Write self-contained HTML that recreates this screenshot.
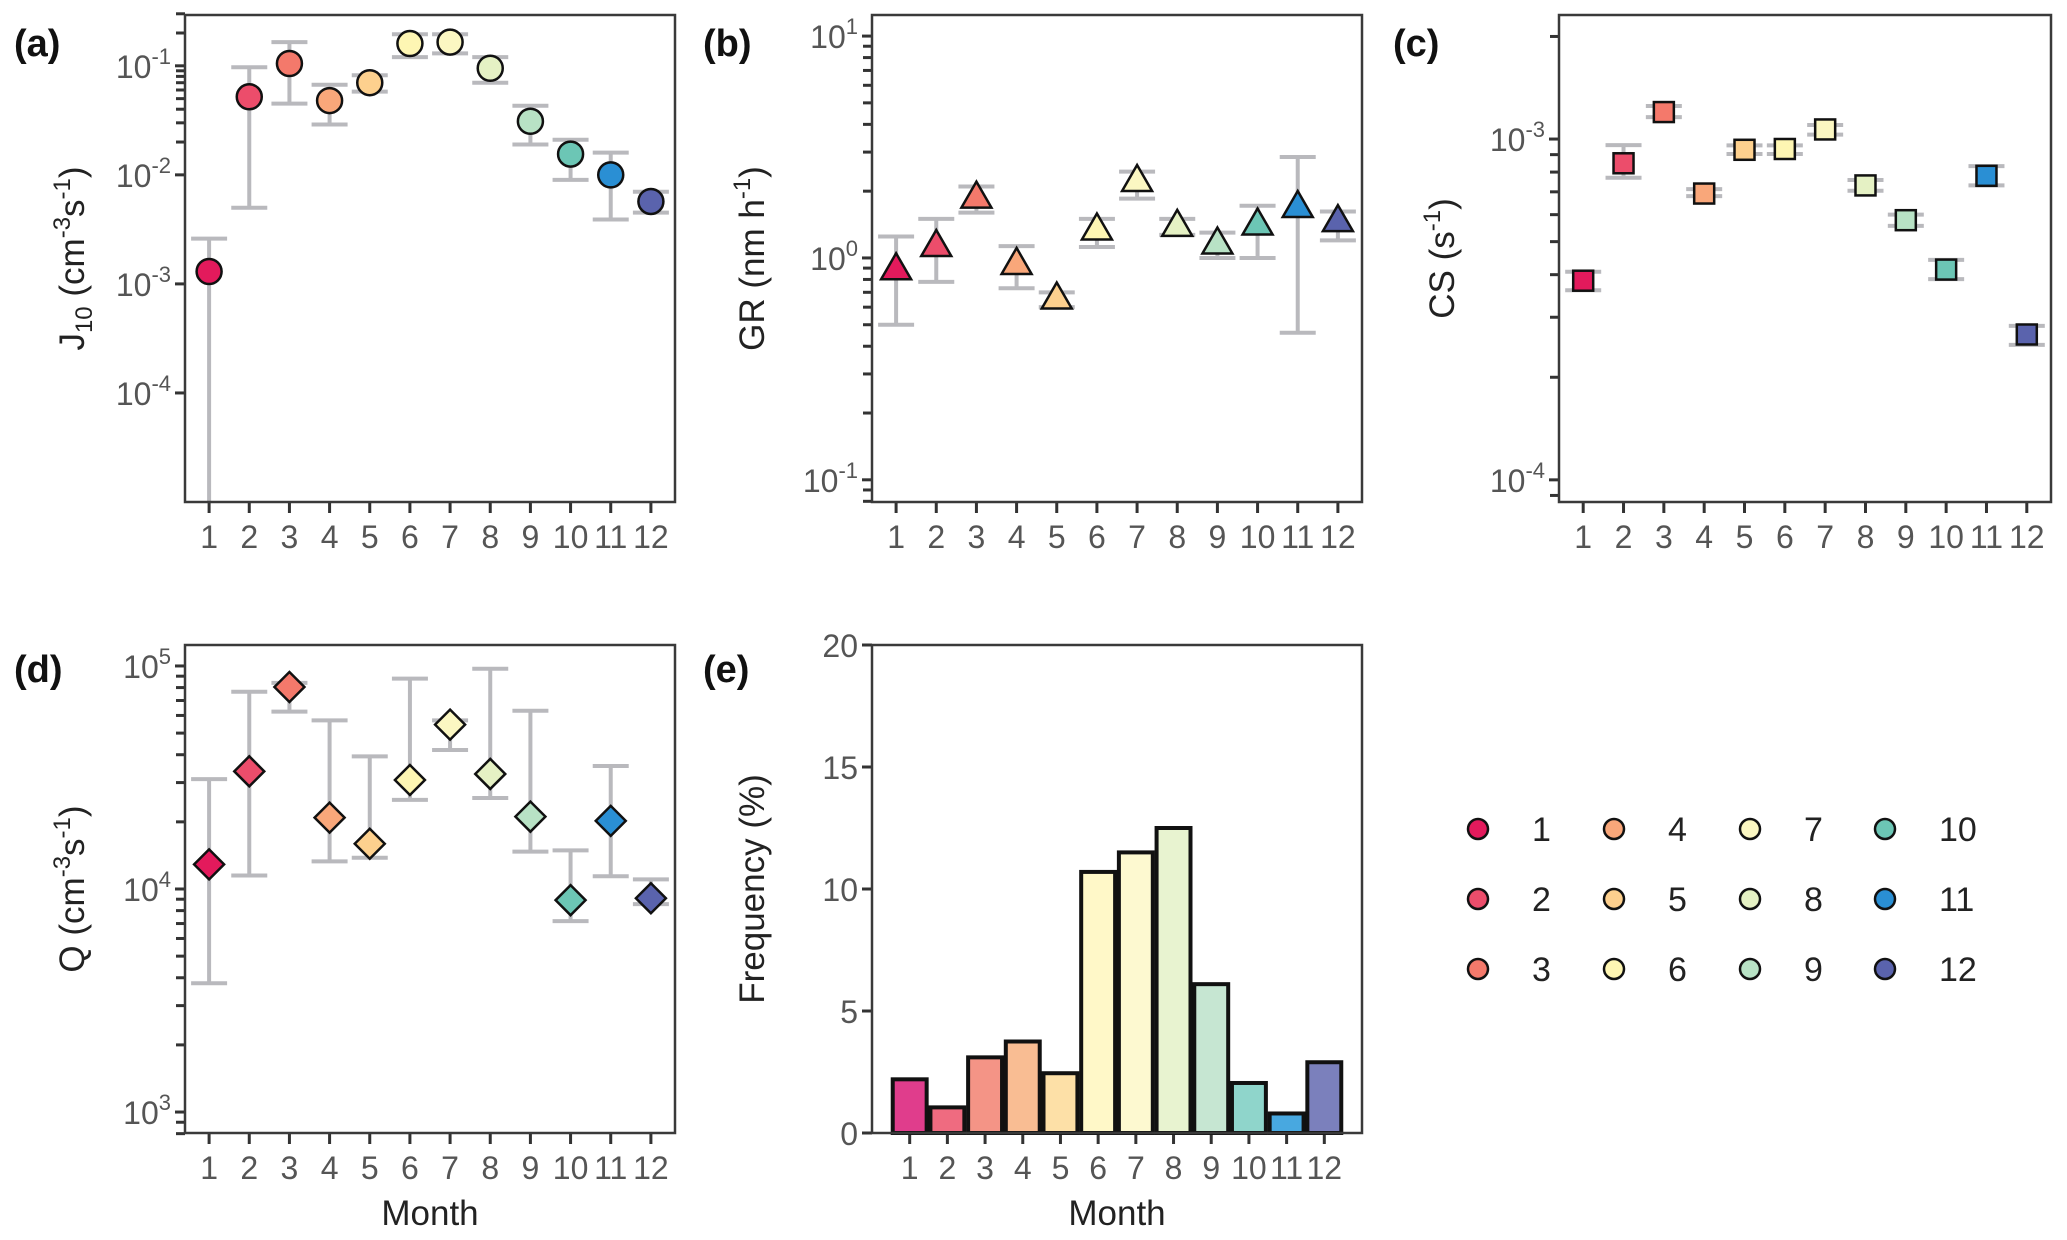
<!DOCTYPE html>
<html><head><meta charset="utf-8"><style>
html,body{margin:0;padding:0;background:#fff;}
svg{display:block;font-family:"Liberation Sans",Arial,sans-serif;}
</style></head><body>
<svg id="fig" width="2067" height="1240" viewBox="0 0 2067 1240" xmlns="http://www.w3.org/2000/svg">
<defs>
<clipPath id="clipA"><rect x="185" y="15" width="490" height="487"/></clipPath>
</defs>
</svg>
<script>
const months = [1,2,3,4,5,6,7,8,9,10,11,12];
const pointColors = ["#e31a5c","#ec4d6b","#f4796b","#f9a77a","#fdd08e","#fef6b3","#fbf7c2","#e5f1c4","#b8e2c5","#6cc6b5","#2a8fd4","#5a63ad"];
const barColors = ["#e03d8c","#ef6b80","#f49486","#f9bd93","#fde0a7","#fff8c8","#fdf9d0","#e8f3d0","#c6e6d2","#8fd5cb","#48a8e0","#7b80bc"];

const jValues = [0.0013,0.052,0.105,0.048,0.07,0.16,0.165,0.095,0.031,0.0155,0.010,0.0057];
const jLow    = [0.000001,0.005,0.045,0.029,0.058,0.12,0.13,0.07,0.019,0.009,0.0039,0.0045];
const jHigh   = [0.0026,0.097,0.165,0.067,0.082,0.195,0.195,0.12,0.043,0.021,0.016,0.007];

const grValues = [0.88,1.12,1.85,0.93,0.65,1.33,2.2,1.38,1.15,1.4,1.68,1.45];
const grLow    = [0.5,0.78,1.6,0.73,0.6,1.12,1.85,1.27,1.0,1.0,0.46,1.2];
const grHigh   = [1.25,1.5,2.1,1.13,0.7,1.5,2.45,1.5,1.3,1.72,2.85,1.62];

const csValues = [3.84e-4,8.49e-4,1.2e-3,6.92e-4,9.3e-4,9.35e-4,1.067e-3,7.31e-4,5.78e-4,4.14e-4,7.8e-4,2.67e-4];
const csLow    = [3.6e-4,7.7e-4,1.16e-3,6.8e-4,9.04e-4,9.04e-4,1.03e-3,7.05e-4,5.56e-4,3.88e-4,7.31e-4,2.49e-4];
const csHigh   = [4.08e-4,9.6e-4,1.25e-3,7.13e-4,9.58e-4,9.58e-4,1.10e-3,7.58e-4,6.0e-4,4.42e-4,8.33e-4,2.83e-4];

const qValues = [12900,33700,80500,20900,15960,30800,54600,32800,21100,8910,20200,9090];
const qLow    = [3780,11500,62400,13300,13800,25100,42000,25600,14700,7180,11400,8550];
const qHigh   = [31100,76600,84000,57000,39300,87700,57000,97200,63000,14900,35600,11050];

const freqValues = [2.2,1.05,3.1,3.75,2.45,10.7,11.5,12.5,6.1,2.05,0.8,2.9];
const freqTicks = [0,5,10,15,20];
const monthLabels = ["1","2","3","4","5","6","7","8","9","10","11","12"];

const svg = document.getElementById('fig');
const NS = "http://www.w3.org/2000/svg";
function mk(tag, attrs, parent){
  const e = document.createElementNS(NS, tag);
  for (const k in attrs) e.setAttribute(k, attrs[k]);
  (parent||svg).appendChild(e);
  return e;
}

function panel(p){
  const g = mk('g', {});
  
  
  const L=p.L,R=p.R,T=p.T,B=p.B;
  const yMap = p.log ? (v)=> T + (p.top - Math.log10(v))/(p.top - p.bot)*(B-T)
                     : (v)=> B - (v - p.bot)/(p.top - p.bot)*(B-T);
  const step = (R-L)/p.nx;
  const xMap = (m)=> L + (m - 1 + p.ex)*step;
  const lt = mk('text', {x:p.lx, y:p.ly, 'font-size':38, 'font-weight':'bold', fill:'#111'}, g);
  lt.textContent = p.letter;
  
  
  const yt = mk('g', {}, g);
  
  
  if (p.log){
    for (const e of p.majors){
      const y = yMap(Math.pow(10,e));
      mk('line',{x1:L-10,x2:L,y1:y,y2:y,stroke:'#333','stroke-width':3},yt);
      const t = mk('text',{x:L-14,y:y+12,'font-size':32,fill:'#555','text-anchor':'end'},yt);
      const a = document.createElementNS(NS,'tspan'); a.textContent='10'; t.appendChild(a);
      const b = document.createElementNS(NS,'tspan'); b.setAttribute('dy','-14'); b.setAttribute('font-size','22'); b.textContent=String(e); t.appendChild(b);
      
      
    }
    for (const v of p.minors){
      const y = yMap(v);
      if (y < T-3 || y > B+1) continue;
      mk('line',{x1:L-9,x2:L,y1:y,y2:y,stroke:'#333','stroke-width':3},yt);
    }
  } else {
    for (const v of p.ticks){
      const y = yMap(v);
      mk('line',{x1:L-10,x2:L,y1:y,y2:y,stroke:'#333','stroke-width':3},yt);
      const t = mk('text',{x:L-14,y:y+12,'font-size':32,fill:'#555','text-anchor':'end'},yt);
      t.textContent = String(v);
      
      
    }
  }
  const xt = mk('g', {}, g);
  
  
  months.forEach((m,i)=>{
    const x = xMap(m);
    mk('line',{x1:x,x2:x,y1:B,y2:B+11,stroke:'#333','stroke-width':3},xt);
    const t = mk('text',{x:x,y:B+46,'font-size':32,fill:'#555','text-anchor':'middle'},xt);
    t.textContent = monthLabels[i];
    
    
  });
  if (p.month){
    const t = mk('text',{x:(L+R)/2,y:B+92,'font-size':35,fill:'#222','text-anchor':'middle'},g);
    t.textContent='Month';
    
    
  }
  const cy = (T+B)/2;
  const yt2 = mk('text',{x:p.tx,y:cy,'font-size':35,fill:'#222','text-anchor':'middle',transform:`rotate(-90 ${p.tx} ${cy})`},g);
  yt2.innerHTML = p.title;
  
  
  const mg = mk('g', p.clip?{'clip-path':p.clip}:{}, g);
  
  
  if (p.bars){
    p.values.forEach((v,i)=>{
      const x = xMap(months[i]); const bw = step*0.9;
      const r = mk('rect',{x:x-bw/2,y:yMap(v),width:bw,height:yMap(0)-yMap(v),fill:barColors[i],stroke:'#111','stroke-width':4},mg);
      
      
    });
  } else {
    p.values.forEach((v,i)=>{
      const x = xMap(months[i]);
      const yl = yMap(p.low[i]), yh = yMap(p.high[i]);
      const eb = mk('g',{stroke:'#b9b9bd','stroke-width':4,fill:'none'},mg);
      
      
      mk('line',{x1:x,x2:x,y1:yl,y2:yh},eb);
      mk('line',{x1:x-18,x2:x+18,y1:yl,y2:yl},eb);
      mk('line',{x1:x-18,x2:x+18,y1:yh,y2:yh},eb);
    });
    p.values.forEach((v,i)=>{
      const x = xMap(months[i]); const y = yMap(v);
      let s;
      const st = {fill:pointColors[i],stroke:'#111','stroke-width':2.5};
      if (p.shape==='circle') s = mk('circle',Object.assign({cx:x,cy:y,r:12.5},st),mg);
      else if (p.shape==='tri') s = mk('polygon',Object.assign({points:`${x},${y-17} ${x-15},${y+9} ${x+15},${y+9}`},st),mg);
      else if (p.shape==='sq') s = mk('rect',Object.assign({x:x-10,y:y-10,width:20,height:20},st),mg);
      else s = mk('polygon',Object.assign({points:`${x},${y-15} ${x+15},${y} ${x},${y+15} ${x-15},${y}`},st),mg);
      
      
    });
  }
  const fr = mk('rect',{x:L,y:T,width:R-L,height:B-T,fill:'none',stroke:'#3a3a3a','stroke-width':2.5},g);
  
  
}
function minorList(e0,e1){const a=[];for(let e=e0;e<=e1;e++)for(let k=2;k<=9;k++)a.push(k*Math.pow(10,e));return a;}

panel({name:'panel-a-j10',letter:'(a)',lx:14,ly:56,L:185,R:675,T:15,B:502,log:true,top:-0.534,bot:-5,
  majors:[-1,-2,-3,-4],minors:[0.02,0.03,0.04,0.05,0.06,0.07,0.08,0.09,0.2,0.3],nx:12.2,ex:0.6,tx:84,clip:'url(#clipA)',
  title:'J<tspan dy="8" font-size="24">10</tspan><tspan dy="-8"> (cm</tspan><tspan dy="-14" font-size="24">-3</tspan><tspan dy="14">s</tspan><tspan dy="-14" font-size="24">-1</tspan><tspan dy="14">)</tspan>',
  values:jValues,low:jLow,high:jHigh,shape:'circle'});
panel({name:'panel-b-gr',letter:'(b)',lx:703,ly:56,L:872,R:1362,T:15,B:502,log:true,top:1.095,bot:-1.1,
  majors:[1,0,-1],minors:minorList(-2,0),nx:12.2,ex:0.6,tx:764,
  title:'GR (nm h<tspan dy="-14" font-size="24">-1</tspan><tspan dy="14">)</tspan>',
  values:grValues,low:grLow,high:grHigh,shape:'tri'});
panel({name:'panel-c-cs',letter:'(c)',lx:1393,ly:56,L:1559,R:2051,T:15,B:502,log:true,top:-2.636,bot:-4.065,
  majors:[-3,-4],minors:minorList(-5,-3),nx:12.2,ex:0.6,tx:1454,
  title:'CS (s<tspan dy="-14" font-size="24">-1</tspan><tspan dy="14">)</tspan>',
  values:csValues,low:csLow,high:csHigh,shape:'sq'});
panel({name:'panel-d-q',letter:'(d)',lx:14,ly:682,L:185,R:675,T:645,B:1133,log:true,top:5.094,bot:2.906,
  majors:[5,4,3],minors:minorList(2,4),nx:12.2,ex:0.6,tx:84,month:true,
  title:'Q (cm<tspan dy="-14" font-size="24">-3</tspan><tspan dy="14">s</tspan><tspan dy="-14" font-size="24">-1</tspan><tspan dy="14">)</tspan>',
  values:qValues,low:qLow,high:qHigh,shape:'dia'});
panel({name:'panel-e-frequency',letter:'(e)',lx:703,ly:682,L:872,R:1362,T:645,B:1133,log:false,top:20,bot:0,
  ticks:freqTicks,nx:13,ex:1,tx:764,month:true,bars:true,
  title:'Frequency (%)',values:freqValues});

const lg = mk('g',{});


const legCols=[1478,1614,1750,1885], legRows=[829,899,969];
months.forEach((m,i)=>{
  const c=Math.floor(i/3), r=i%3;
  const eg = mk('g',{},lg);
  
  
  mk('circle',{cx:legCols[c],cy:legRows[r],r:10,fill:pointColors[i],stroke:'#111','stroke-width':2.5},eg);
  const t = mk('text',{x:legCols[c]+54,y:legRows[r]+12,'font-size':34,fill:'#222'},eg);
  t.textContent=monthLabels[i];
});
</script>
</body></html>
